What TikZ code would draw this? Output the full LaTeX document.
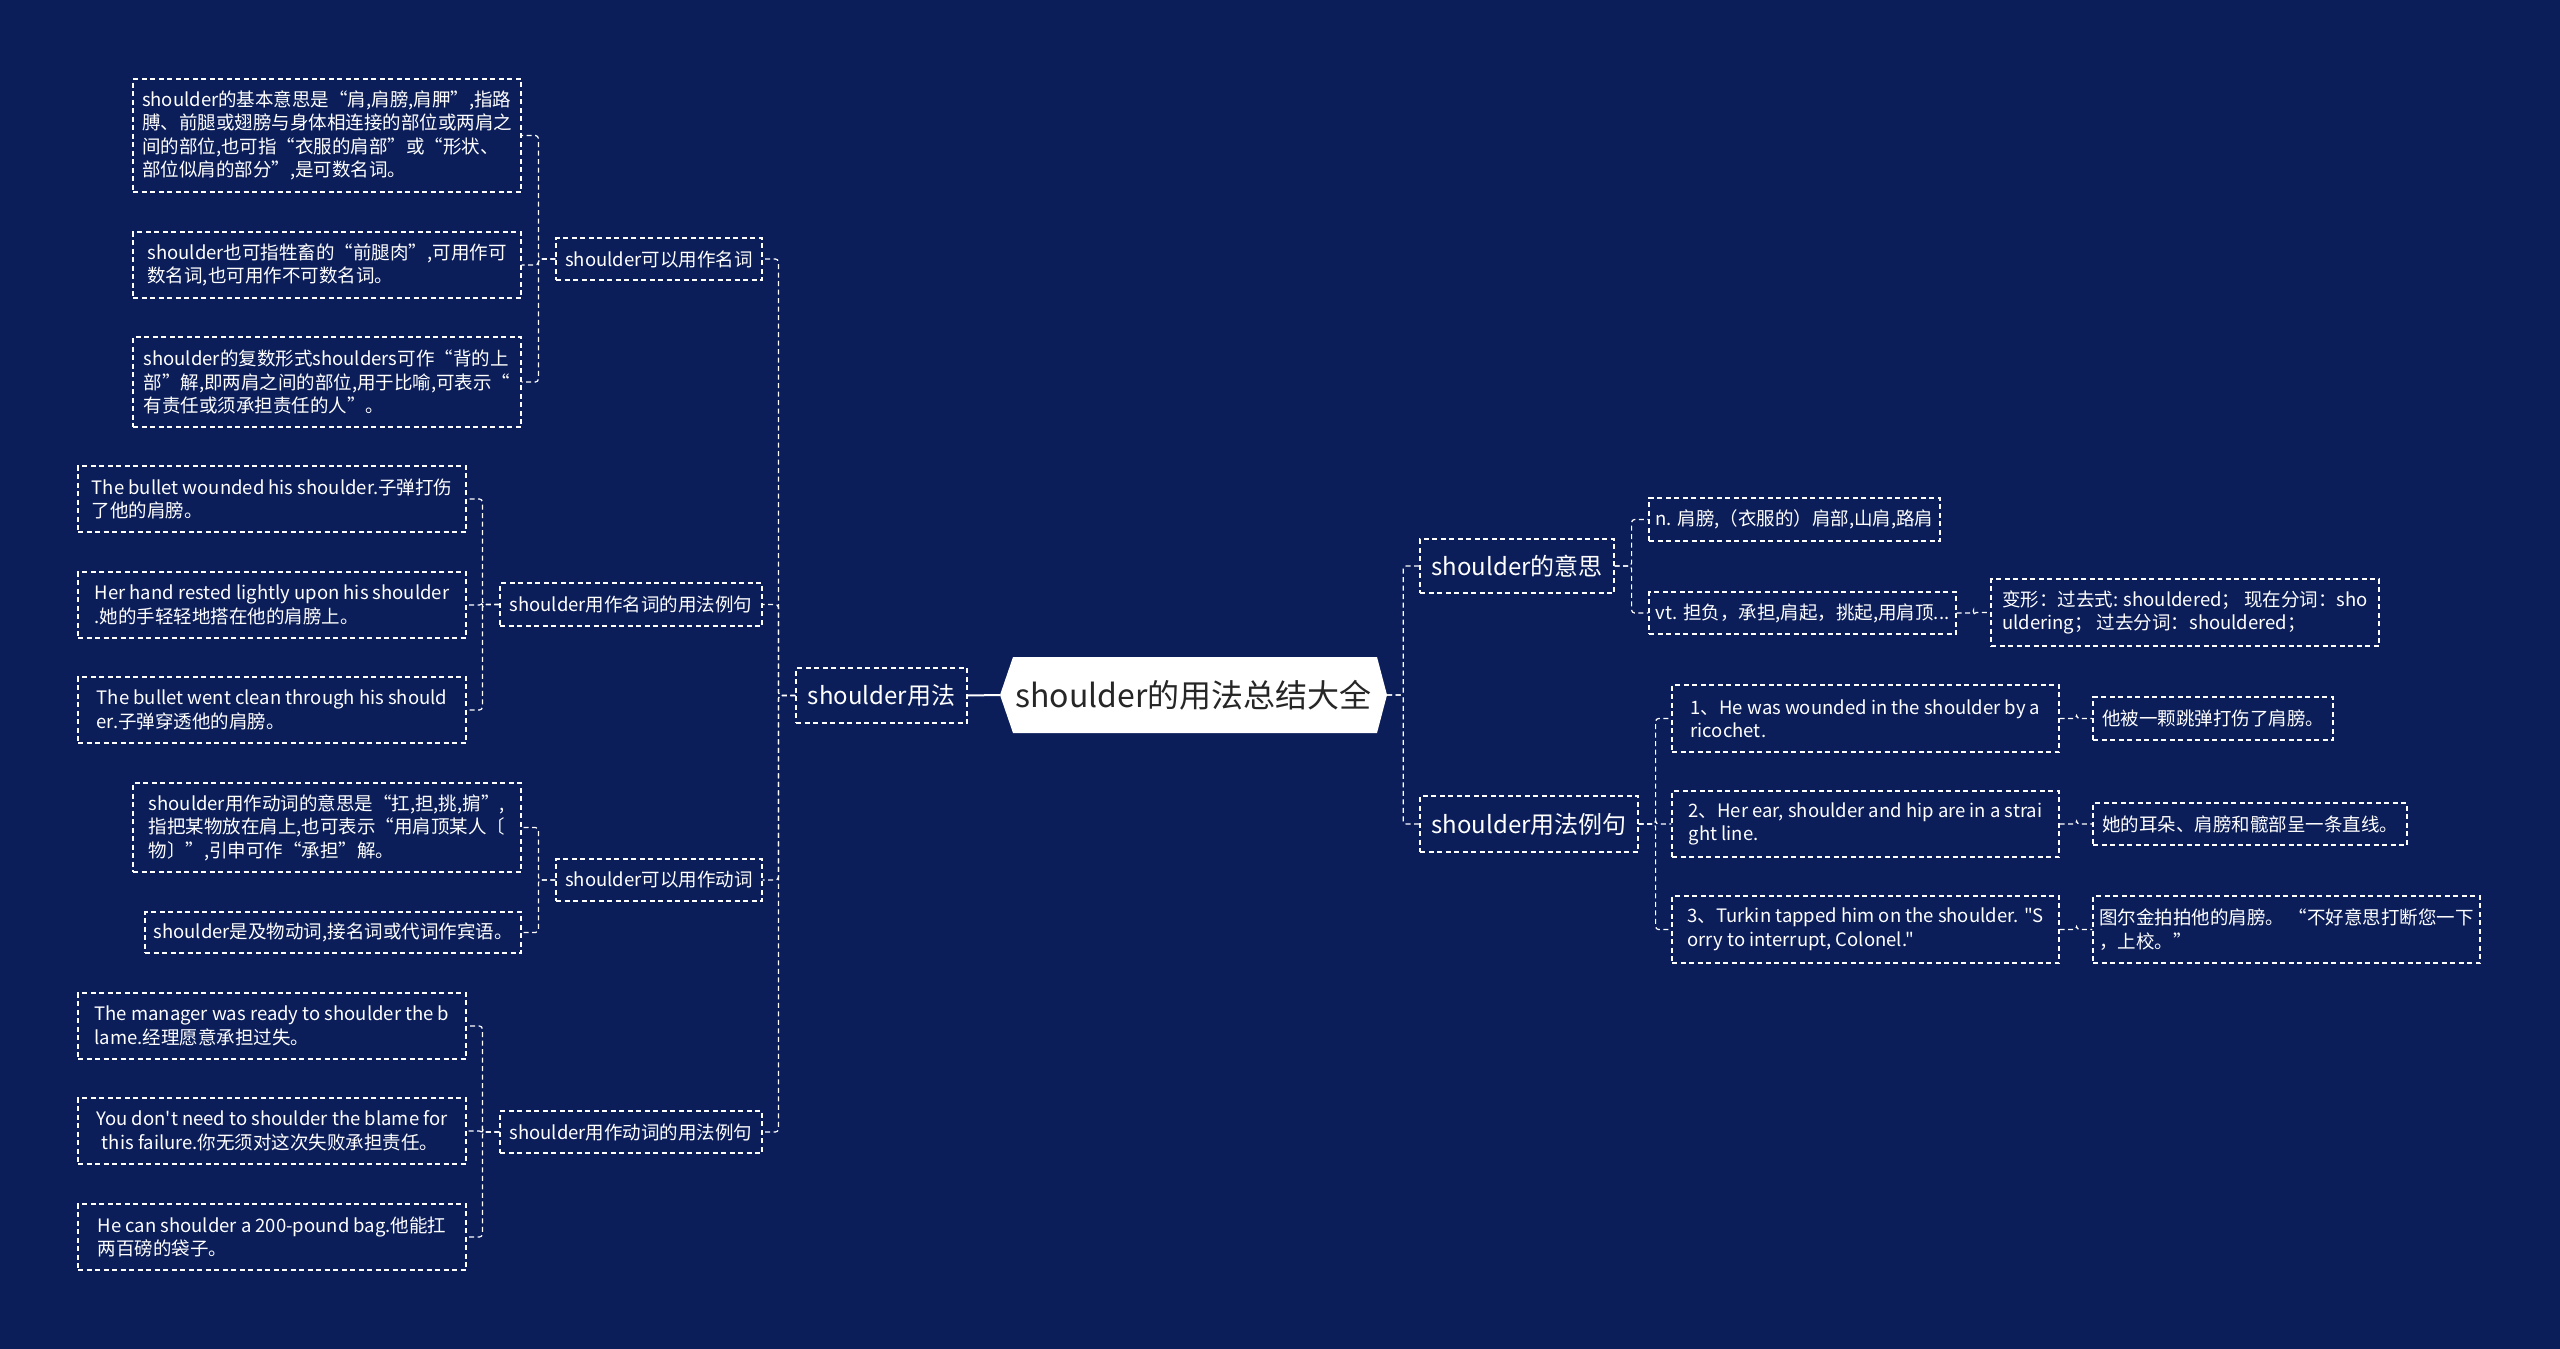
\documentclass[tikz,border=0pt]{standalone}
\usepackage{fontspec}
\setmainfont{Noto Sans CJK SC}[Ligatures=TeXOff]
\definecolor{bg}{RGB}{11,30,90}
\begin{document}
\begin{tikzpicture}[x=1pt,y=-1pt,
  bx/.style={draw=white, line width=1.2pt, dash pattern=on 5pt off 3.5pt, text=white, align=left, inner sep=0pt, font=\fontsize{18.5}{23.5}\selectfont},
  big/.style={font=\fontsize{24}{28}\selectfont},
  sz/.style 2 args={minimum width=#1pt, minimum height=#2pt},
  conn/.style={draw=white, line width=1.2pt, dash pattern=on 5pt off 3.5pt, rounded corners=3pt}
]
\fill[bg] (0,0) rectangle (2560,1349);
\useasboundingbox (0,0) rectangle (2560,1349);

% root
\fill[white] (1013,657) -- (1377,657) -- (1387,695) -- (1377,733) -- (1013,733) -- (1000,695) -- cycle;
\node[font=\fontsize{32}{38}\selectfont, text=black!85, inner sep=0pt, sz={387}{76}] (root) at (1193.5,695) {shoulder的用法总结大全};

% level 1
\node[bx, big, sz={171}{55}] (N0) at (881.5,695.5) {shoulder用法};
\node[bx, big, sz={194}{54}] (R1) at (1517,566) {shoulder的意思};
\node[bx, big, sz={218}{56}] (R2) at (1529,824) {shoulder用法例句};

% level 2 left
\node[bx, sz={206}{42}] (N1) at (659,259) {shoulder可以用作名词};
\node[bx, sz={262}{43}] (N2) at (631,604.5) {shoulder用作名词的用法例句};
\node[bx, sz={206}{42}] (N3) at (659,880) {shoulder可以用作动词};
\node[bx, sz={262}{42}] (N4) at (631,1132) {shoulder用作动词的用法例句};

% leaves under N1
\node[bx, sz={388}{113}] (A1) at (327,135.5) {shoulder的基本意思是“肩,肩膀,肩胛”,指路\\膊、前腿或翅膀与身体相连接的部位或两肩之\\间的部位,也可指“衣服的肩部”或“形状、\\部位似肩的部分”,是可数名词。};
\node[bx, sz={388}{66}] (A2) at (327,265) {shoulder也可指牲畜的“前腿肉”,可用作可\\数名词,也可用作不可数名词。};
\node[bx, sz={388}{90}] (A3) at (327,382) {shoulder的复数形式shoulders可作“背的上\\部”解,即两肩之间的部位,用于比喻,可表示“\\有责任或须承担责任的人”。};

% leaves under N2
\node[bx, sz={388}{66}] (B1) at (272,499) {The bullet wounded his shoulder.子弹打伤\\了他的肩膀。};
\node[bx, sz={388}{66}] (B2) at (272,605) {Her hand rested lightly upon his shoulder\\.她的手轻轻地搭在他的肩膀上。};
\node[bx, sz={388}{66}] (B3) at (272,710) {The bullet went clean through his should\\er.子弹穿透他的肩膀。};

% leaves under N3
\node[bx, sz={388}{89}] (C1) at (327,827.5) {shoulder用作动词的意思是“扛,担,挑,掮”,\\指把某物放在肩上,也可表示“用肩顶某人〔\\物〕”,引申可作“承担”解。};
\node[bx, sz={376}{41}] (C2) at (333,932.5) {shoulder是及物动词,接名词或代词作宾语。};

% leaves under N4
\node[bx, sz={388}{66}] (D1) at (272,1026) {The manager was ready to shoulder the b\\lame.经理愿意承担过失。};
\node[bx, sz={388}{66}] (D2) at (272,1131) {You don't need to shoulder the blame for\\\hspace*{0.3em}this failure.你无须对这次失败承担责任。};
\node[bx, sz={388}{66}] (D3) at (272,1237) {He can shoulder a 200-pound bag.他能扛\\两百磅的袋子。};

% right side
\node[bx, sz={291}{43}] (R1a) at (1794.5,519.5) {n. 肩膀,（衣服的）肩部,山肩,路肩};
\node[bx, sz={307}{42}] (R1b) at (1802.5,613) {vt. 担负，承担,肩起，挑起,用肩顶...};
\node[bx, sz={388}{67}] (R1c) at (2185,612.5) {变形：过去式: shouldered； 现在分词：sho\\uldering； 过去分词：shouldered；};

\node[bx, sz={387}{67}] (E1) at (1865.5,718.5) {1、He was wounded in the shoulder by a\\ricochet.};
\node[bx, sz={387}{66}] (E2) at (1865.5,824) {2、Her ear, shoulder and hip are in a strai\\ght line.};
\node[bx, sz={387}{67}] (E3) at (1865.5,929.5) {3、Turkin tapped him on the shoulder. "S\\orry to interrupt, Colonel."};
\node[bx, sz={240}{43}] (E1c) at (2213,718.5) {他被一颗跳弹打伤了肩膀。};
\node[bx, sz={314}{42}] (E2c) at (2250,824) {她的耳朵、肩膀和髋部呈一条直线。};
\node[bx, sz={387}{67}] (E3c) at (2286.5,929.5) {图尔金拍拍他的肩膀。 “不好意思打断您一下\\，上校。”};

% connectors
\draw[white, line width=2pt] (root.west) -- (N0.east);
\foreach \n in {N1,N2,N3,N4} \draw[conn] (N0.west) -- ++(-17,0) |- (\n.east);
\foreach \n in {A1,A2,A3} \draw[conn] (N1.west) -- ++(-17,0) |- (\n.east);
\foreach \n in {B1,B2,B3} \draw[conn] (N2.west) -- ++(-17,0) |- (\n.east);
\foreach \n in {C1,C2} \draw[conn] (N3.west) -- ++(-17,0) |- (\n.east);
\foreach \n in {D1,D2,D3} \draw[conn] (N4.west) -- ++(-17,0) |- (\n.east);
\foreach \n in {R1,R2} \draw[conn] (root.east) -- ++(16,0) |- (\n.west);
\foreach \n in {R1a,R1b} \draw[conn] (R1.east) -- ++(17,0) |- (\n.west);
\draw[conn] (R1b.east) -- ++(17,0) |- (R1c.west);
\foreach \n in {E1,E2,E3} \draw[conn] (R2.east) -- ++(17,0) |- (\n.west);
\draw[conn] (E1.east) -- ++(17,0) |- (E1c.west);
\draw[conn] (E2.east) -- ++(17,0) |- (E2c.west);
\draw[conn] (E3.east) -- ++(17,0) |- (E3c.west);
\end{tikzpicture}
\end{document}
